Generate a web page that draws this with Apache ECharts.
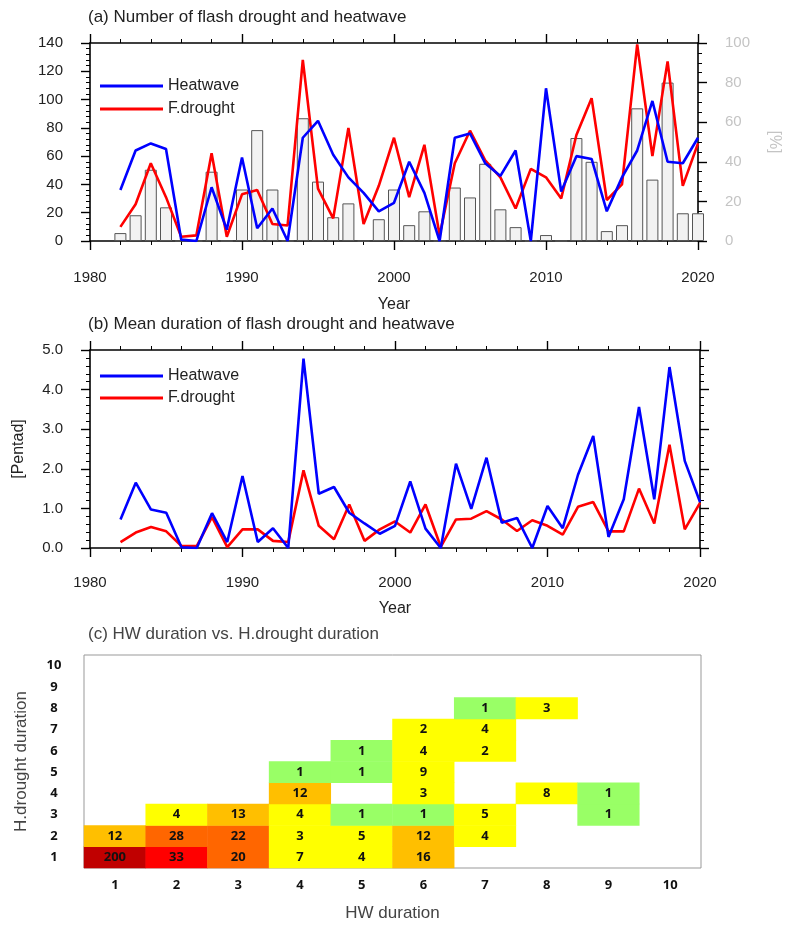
<!DOCTYPE html>
<html><head><meta charset="utf-8">
<script src="https://cdn.jsdelivr.net/npm/echarts@6/dist/echarts.min.js"></script>
<style>html,body{margin:0;padding:0;background:#fff}#c{width:790px;height:932px}</style>
</head><body><div id="c"></div>
<script>
const years = [];
for (let y = 1982; y <= 2020; y++) years.push(y);

// Panel (a): number of events (left axis) and percentage bars (right axis)
const heatwaveCount = [36,64,69,65,1,0,38,8,59,9,23,0,73,85,61,45,34,21,27,56,34,0,73,76,55,46,64,0,108,35,60,58,21,45,64,99,56,55,73];
const droughtCount  = [10,26,55,31,3,4,62,3,33,36,12,11,128,37,16,80,12,39,73,31,68,4,55,78,57,45,23,51,45,30,75,101,29,40,139,60,127,39,69];
const ratioPct      = [4,13,36,17,0,0,35,0,26,56,26,0,62,30,12,19,0,11,26,8,15,0,27,22,39,16,7,0,3,0,52,40,5,8,67,31,80,14,14];

// Panel (b): mean duration [Pentad]
const heatwaveDur = [0.72,1.65,0.97,0.89,0.02,0,0.88,0.15,1.82,0.15,0.5,0,4.78,1.37,1.54,0.89,0.62,0.36,0.56,1.68,0.49,0,2.13,0.99,2.28,0.64,0.76,0,1.06,0.5,1.85,2.83,0.28,1.23,3.56,1.23,4.57,2.2,1.16];
const droughtDur  = [0.15,0.39,0.53,0.42,0.05,0.05,0.78,0.02,0.47,0.47,0.18,0.15,1.96,0.56,0.22,1.1,0.18,0.47,0.67,0.39,1.1,0.03,0.72,0.74,0.93,0.72,0.43,0.7,0.56,0.34,1.04,1.16,0.42,0.42,1.5,0.62,2.61,0.47,1.14];

// Panel (c): HW duration vs H.drought duration counts
const durLabels = ['1','2','3','4','5','6','7','8','9','10'];
const cellHW    = [1,2,3,4,5,6, 1,2,3,4,5,6,7, 2,3,4,5,6,7,9, 4,6,8,9, 4,5,6, 5,6,7, 6,7, 7,8];
const cellHD    = [1,1,1,1,1,1, 2,2,2,2,2,2,2, 3,3,3,3,3,3,3, 4,4,4,4, 5,5,5, 6,6,6, 7,7, 8,8];
const cellCount = [200,33,20,7,4,16, 12,28,22,3,5,12,4, 4,13,4,1,1,5,1, 12,3,8,1, 1,1,9, 1,4,2, 2,4, 1,3];

const FONT = 'Liberation Sans, Arial, sans-serif';
const pair = (xs, vs) => xs.map((x, i) => [x, vs[i]]);

function yearAxis(gridIndex, position, showLabel, margin, nameGap) {
  return {
    type: 'value', gridIndex, position, min: 1980, max: 2020, interval: 10,
    axisLine: { onZero: false, lineStyle: { color: '#000', width: 1.6 } },
    axisTick: { length: 9, lineStyle: { color: '#000', width: 1.4 } },
    minorTick: { show: true, splitNumber: 5, length: 4, lineStyle: { color: '#000', width: 1 } },
    splitLine: { show: false },
    axisLabel: { show: showLabel, margin: margin || 28, fontSize: 15, color: '#222', fontFamily: FONT, formatter: v => String(v) },
    name: showLabel ? 'Year' : '', nameLocation: 'middle', nameGap: nameGap || 55,
    nameTextStyle: { fontSize: 16, color: '#222', fontFamily: FONT }
  };
}

const legendBase = {
  orient: 'vertical', left: 95, icon: 'rect', itemWidth: 63, itemHeight: 3,
  data: ['Heatwave', 'F.drought'],
  textStyle: { fontSize: 16, color: '#222', fontFamily: FONT }
};

const chart = echarts.init(document.getElementById('c'));
chart.setOption({
  backgroundColor: '#fff',
  animation: false,
  title: [
    { text: '(a) Number of flash drought and heatwave', left: 83, top: 4, textStyle: { fontSize: 17, fontWeight: 'normal', color: '#222', fontFamily: FONT } },
    { text: '(b) Mean duration of flash drought and heatwave', left: 83, top: 311, textStyle: { fontSize: 17, fontWeight: 'normal', color: '#222', fontFamily: FONT } },
    { text: '(c) HW duration vs. H.drought duration', left: 83, top: 621, textStyle: { fontSize: 17, fontWeight: 'normal', color: '#444', fontFamily: FONT } }
  ],
  legend: [
    Object.assign({}, legendBase, { top: 73, itemGap: 7 }),
    Object.assign({}, legendBase, { top: 363, itemGap: 6 })
  ],
  grid: [
    { left: 90, top: 43, width: 610, height: 198 },
    { left: 90, top: 350, width: 610, height: 198 },
    { left: 84, top: 655, width: 617, height: 213, show: true, borderColor: '#999', borderWidth: 1, backgroundColor: 'transparent' }
  ],
  xAxis: [
    yearAxis(0, 'bottom', true, 29, 56),
    yearAxis(0, 'top', false),
    yearAxis(1, 'bottom', true, 27, 53),
    yearAxis(1, 'top', false),
    { type: 'category', gridIndex: 2, data: durLabels, position: 'bottom',
      axisLine: { show: false }, axisTick: { show: false }, splitLine: { show: false },
      axisLabel: { margin: 11, fontSize: 13, fontWeight: 'bold', color: '#111', fontFamily: 'Noto Sans, sans-serif' },
      name: 'HW duration', nameLocation: 'middle', nameGap: 37,
      nameTextStyle: { fontSize: 17, color: '#444', fontFamily: FONT } }
  ],
  yAxis: [
    { type: 'value', gridIndex: 0, position: 'left', min: 0, max: 140, interval: 20,
      axisLine: { show: true, lineStyle: { color: '#000', width: 1.6 } },
      axisTick: { show: true, length: 9, lineStyle: { color: '#000', width: 1.4 } },
      minorTick: { show: true, splitNumber: 5, length: 4, lineStyle: { color: '#000', width: 1 } },
      splitLine: { show: false },
      axisLabel: { margin: 27, fontSize: 15, color: '#222', fontFamily: FONT } },
    { type: 'value', gridIndex: 0, position: 'right', min: 0, max: 100, interval: 20,
      axisLine: { show: true, lineStyle: { color: '#000', width: 1.6 } },
      axisTick: { show: true, length: 9, lineStyle: { color: '#000', width: 1.4 } },
      minorTick: { show: true, splitNumber: 4, length: 4, lineStyle: { color: '#000', width: 1 } },
      splitLine: { show: false },
      axisLabel: { margin: 27, fontSize: 15, color: '#c4c4c4', fontFamily: FONT },
      name: '[%]', nameLocation: 'middle', nameRotate: -90, nameGap: 68,
      nameTextStyle: { fontSize: 16, color: '#c4c4c4', fontFamily: FONT } },
    { type: 'value', gridIndex: 1, position: 'left', min: 0, max: 5, interval: 1,
      axisLine: { show: true, lineStyle: { color: '#000', width: 1.6 } },
      axisTick: { show: true, length: 9, lineStyle: { color: '#000', width: 1.4 } },
      minorTick: { show: true, splitNumber: 5, length: 4, lineStyle: { color: '#000', width: 1 } },
      splitLine: { show: false },
      axisLabel: { margin: 27, fontSize: 15, color: '#222', fontFamily: FONT, formatter: v => v.toFixed(1) },
      name: '[Pentad]', nameLocation: 'middle', nameRotate: 90, nameGap: 63,
      nameTextStyle: { fontSize: 16, color: '#222', fontFamily: FONT } },
    { type: 'value', gridIndex: 1, position: 'right', min: 0, max: 5, interval: 1,
      axisLine: { show: true, lineStyle: { color: '#000', width: 1.6 } },
      axisTick: { show: true, length: 9, lineStyle: { color: '#000', width: 1.4 } },
      minorTick: { show: true, splitNumber: 5, length: 4, lineStyle: { color: '#000', width: 1 } },
      splitLine: { show: false },
      axisLabel: { show: false } },
    { type: 'category', gridIndex: 2, data: durLabels, position: 'left',
      axisLine: { show: false }, axisTick: { show: false }, splitLine: { show: false },
      axisLabel: { margin: 30, align: 'center', fontSize: 13, fontWeight: 'bold', color: '#111', fontFamily: 'Noto Sans, sans-serif' },
      name: 'H.drought duration', nameLocation: 'middle', nameRotate: 90, nameGap: 54,
      nameTextStyle: { fontSize: 17, color: '#444', fontFamily: FONT } }
  ],
  visualMap: {
    type: 'piecewise', show: false, seriesIndex: 5, dimension: 2,
    pieces: [
      { min: 1, max: 1, color: '#99ff66' },
      { min: 2, max: 10, color: '#ffff00' },
      { min: 11, max: 19, color: '#ffbf00' },
      { min: 20, max: 30, color: '#ff6600' },
      { min: 31, max: 100, color: '#ff0000' },
      { min: 101, color: '#c00000' }
    ]
  },
  series: [
    { type: 'bar', name: 'ratio', xAxisIndex: 0, yAxisIndex: 1, barWidth: 12, clip: true,
      itemStyle: { color: '#f2f2f2', borderColor: '#555', borderWidth: 1 },
      data: pair(years, ratioPct), z: 1 },
    { type: 'line', name: 'Heatwave', xAxisIndex: 0, yAxisIndex: 0, symbol: 'none',
      lineStyle: { color: '#0000ff', width: 2.6 }, itemStyle: { color: '#0000ff' },
      data: pair(years, heatwaveCount), z: 3 },
    { type: 'line', name: 'F.drought', xAxisIndex: 0, yAxisIndex: 0, symbol: 'none',
      lineStyle: { color: '#ff0000', width: 2.6 }, itemStyle: { color: '#ff0000' },
      data: pair(years, droughtCount), z: 2 },
    { type: 'line', name: 'Heatwave', xAxisIndex: 2, yAxisIndex: 2, symbol: 'none',
      lineStyle: { color: '#0000ff', width: 2.6 }, itemStyle: { color: '#0000ff' },
      data: pair(years, heatwaveDur), z: 3 },
    { type: 'line', name: 'F.drought', xAxisIndex: 2, yAxisIndex: 2, symbol: 'none',
      lineStyle: { color: '#ff0000', width: 2.6 }, itemStyle: { color: '#ff0000' },
      data: pair(years, droughtDur), z: 2 },
    { type: 'heatmap', name: 'cells', xAxisIndex: 4, yAxisIndex: 4,
      label: { show: true, fontSize: 13, fontWeight: 'bold', color: '#111', fontFamily: 'Noto Sans, sans-serif' },
      data: cellCount.map((v, i) => [cellHW[i] - 1, cellHD[i] - 1, v]) }
  ]
});
</script></body></html>
